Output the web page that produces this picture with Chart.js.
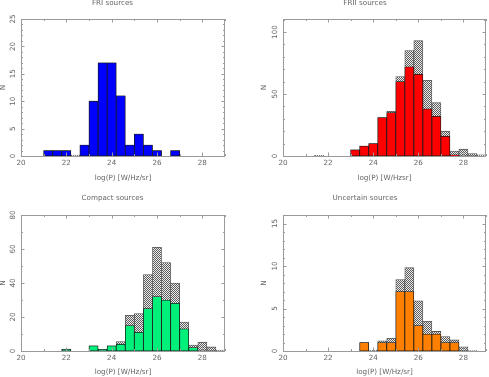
<!DOCTYPE html>
<html><head><meta charset="utf-8">
<script src="https://cdn.jsdelivr.net/npm/chart.js@4.4.0/dist/chart.umd.min.js"></script>
<style>
html,body{margin:0;padding:0;background:#fff;}
#wrap{position:relative;width:489px;height:377px;overflow:hidden;background:#fff;}
canvas{position:absolute;}
</style></head><body>
<div id="wrap">
<canvas id="c1" width="244" height="188" style="left:0;top:0"></canvas>
<canvas id="c2" width="245" height="188" style="left:244px;top:0"></canvas>
<canvas id="c3" width="244" height="189" style="left:0;top:188px"></canvas>
<canvas id="c4" width="245" height="189" style="left:244px;top:188px"></canvas>
</div>
<script>
// ---- data (bins of 0.4 in log P, centres) ----
const binCenters = [21.2,21.6,22.0,22.4,22.8,23.2,23.6,24.0,24.4,24.8,25.2,25.6,26.0,26.4,26.8,27.2,27.6,28.0,28.4,28.8];
const xTicks = [20,22,24,26,28];

const friColored   = [1,1,1,0,2,10,17,17,11,2,4,2,1,0,1,0,0,0,0,0];
const friTotal     = [1,1,1,0.15,2,10,17,17,11,2,4,2,1,0,1,0,0,0,0,0];
const friYTicks    = [0,5,10,15,20,25];

const friiColored  = [0,0,0,0,0,5,8,10,31,35,60,72,66,38,32,16,1,0,0,0];
const friiTotal    = [0,0.5,0,0,0,5,8,10,31,36,64,85,93,61,43,20,4,5.5,2,1];
const friiYTicks   = [0,50,100];

const compColored  = [0,0,1,0,0,3,1,3,4,15,11,25,32,30,28,13,2,0,0,0];
const compTotal    = [0,0,1.2,0,0,3,1,3,5.5,21,22,45,61,52,40,17,3.5,5.2,2.4,0.6];
const compYTicks   = [0,20,40,60,80];

const uncColored   = [0,0,0,0,0,0,1,0,1,1,7,7,3,2,2,1,1,0,0,0];
const uncTotal     = [0,0,0,0,0,0,1,0.1,1.2,1.5,8.4,9.8,5.9,3.5,2.3,1.7,1.3,0.5,0.05,0];
const uncYTicks    = [0,5,10,15];

// ---- styling helpers ----
const TXT = '#666666';
const FRAME = '#9a9a9a';
const FONT = {family:'DejaVu Sans', size:7.2, lineHeight:1, weight:'normal'};

function hatch(){
  const c = document.createElement('canvas'); c.width = 2; c.height = 2;
  const g = c.getContext('2d');
  g.fillStyle = '#ececec'; g.fillRect(0,0,2,2);
  g.fillStyle = '#5c5c5c'; g.fillRect(0,0,1,1); g.fillRect(1,1,1,1);
  return g.createPattern(c,'repeat');
}

const framePlugin = {
  id:'frame',
  afterDraw(chart, args, o){
    const {ctx, chartArea:a, scales:{x, y}} = chart;
    ctx.save();
    ctx.strokeStyle = FRAME; ctx.lineWidth = 1;
    ctx.strokeRect(Math.round(a.left)+0.5, Math.round(a.top)+0.5, Math.round(a.right-a.left)-1, Math.round(a.bottom-a.top));
    ctx.beginPath();
    for (let v = x.min; v <= x.max + 1e-9; v += o.xMinor){
      const px = Math.round(x.getPixelForValue(v))+0.5;
      const major = xTicks.includes(Math.round(v*100)/100);
      const L = major ? 3.5 : 2;
      ctx.moveTo(px, a.bottom); ctx.lineTo(px, a.bottom - L);
      ctx.moveTo(px, a.top); ctx.lineTo(px, a.top + L);
    }
    for (let v = y.min; v <= y.max + 1e-9; v += o.yMinor){
      const py = Math.round(y.getPixelForValue(v))+0.5;
      const major = o.yTicks.includes(Math.round(v*100)/100);
      const L = major ? 3.5 : 2;
      ctx.moveTo(a.left, py); ctx.lineTo(a.left + L, py);
      ctx.moveTo(a.right, py); ctx.lineTo(a.right - L, py);
    }
    ctx.stroke();
    ctx.fillStyle = TXT;
    ctx.font = FONT.size + 'px "' + FONT.family + '"';
    ctx.textAlign = 'center'; ctx.textBaseline = 'middle';
    y.ticks.forEach(t => {
      const py = y.getPixelForValue(t.value);
      ctx.save();
      ctx.translate(a.left - 8, py);
      ctx.rotate(-Math.PI/2);
      ctx.fillText(String(t.value), 0, 0);
      ctx.restore();
    });
    ctx.restore();
  }
};

function make(id, cfg){
  const pts = arr => binCenters.map((c,i) => ({x:c, y:arr[i]}));
  const ctx = document.getElementById(id);
  return new Chart(ctx, {
    type:'bar',
    data:{datasets:[
      {label:cfg.title, data:pts(cfg.colored), backgroundColor:cfg.color, borderColor:'#1a1a1a', borderWidth:0.8, borderSkipped:false, grouped:false, barPercentage:1, categoryPercentage:1, order:0},
      {label:cfg.title+' (all)', data:pts(cfg.total), backgroundColor:hatch(), borderColor:'#555', borderWidth:0.8, borderSkipped:false, grouped:false, barPercentage:1, categoryPercentage:1, order:1}
    ]},
    options:{
      responsive:false, animation:false,
      layout:{padding:{left:0, right:cfg.padR, top:0, bottom:0}},
      plugins:{
        legend:{display:false}, tooltip:{enabled:false},
        title:{display:true, text:cfg.title, color:TXT, font:FONT, padding:{top:cfg.tPadT, bottom:cfg.tPadB}},
        frame:{xMinor:1, yMinor:cfg.yMinor, yTicks:cfg.yTicks}
      },
      scales:{
        x:{type:'linear', min:20, max:29, offset:false,
           grid:{display:false, drawTicks:false}, border:{display:false},
           afterBuildTicks:s => { s.ticks = xTicks.map(v => ({value:v})); },
           ticks:{color:TXT, font:FONT, padding:cfg.xTickPad, maxRotation:0, autoSkip:false},
           title:{display:true, text:cfg.xTitle, color:TXT, font:FONT, padding:{top:0, bottom:cfg.xTitlePadB}},
           afterFit:s => { s.height = cfg.xH; }},
        y:{type:'linear', min:0, max:cfg.yMax,
           grid:{display:false, drawTicks:false}, border:{display:false},
           afterBuildTicks:s => { s.ticks = cfg.yTicks.map(v => ({value:v})); },
           ticks:{display:false},
           title:{display:true, text:'N', color:TXT, font:FONT, padding:{top:cfg.nPad, bottom:0}},
           afterFit:s => { s.width = cfg.yW; }}
      }
    },
    plugins:[framePlugin]
  });
}

make('c1', {title:'FRI sources', colored:friColored, total:friTotal, color:'#0000ff', yMax:25, yTicks:friYTicks, yMinor:1,
  xTitle:'log(P) [W/Hz/sr]', padR:19, tPadT:0, tPadB:11.8, xH:32, xTickPad:3.7, xTitlePadB:6.7, yW:21, nPad:0});
make('c2', {title:'FRII sources', colored:friiColored, total:friiTotal, color:'#ff0000', yMax:110.5, yTicks:friiYTicks, yMinor:10,
  xTitle:'log(P) [W/Hzsr]', padR:3, tPadT:0, tPadB:11.8, xH:32, xTickPad:3.7, xTitlePadB:6.7, yW:39, nPad:17});
make('c3', {title:'Compact sources', colored:compColored, total:compTotal, color:'#00f07a', yMax:80, yTicks:compYTicks, yMinor:10,
  xTitle:'log(P) [W/Hz/sr]', padR:19, tPadT:6.4, tPadB:13.4, xH:26, xTickPad:3.1, xTitlePadB:1.7, yW:21, nPad:0});
make('c4', {title:'Uncertain sources', colored:uncColored, total:uncTotal, color:'#ff8000', yMax:16, yTicks:uncYTicks, yMinor:1,
  xTitle:'log(P) [W/Hz/sr]', padR:3, tPadT:6.4, tPadB:13.4, xH:26, xTickPad:3.1, xTitlePadB:1.7, yW:39, nPad:17});
</script>
</body></html>
